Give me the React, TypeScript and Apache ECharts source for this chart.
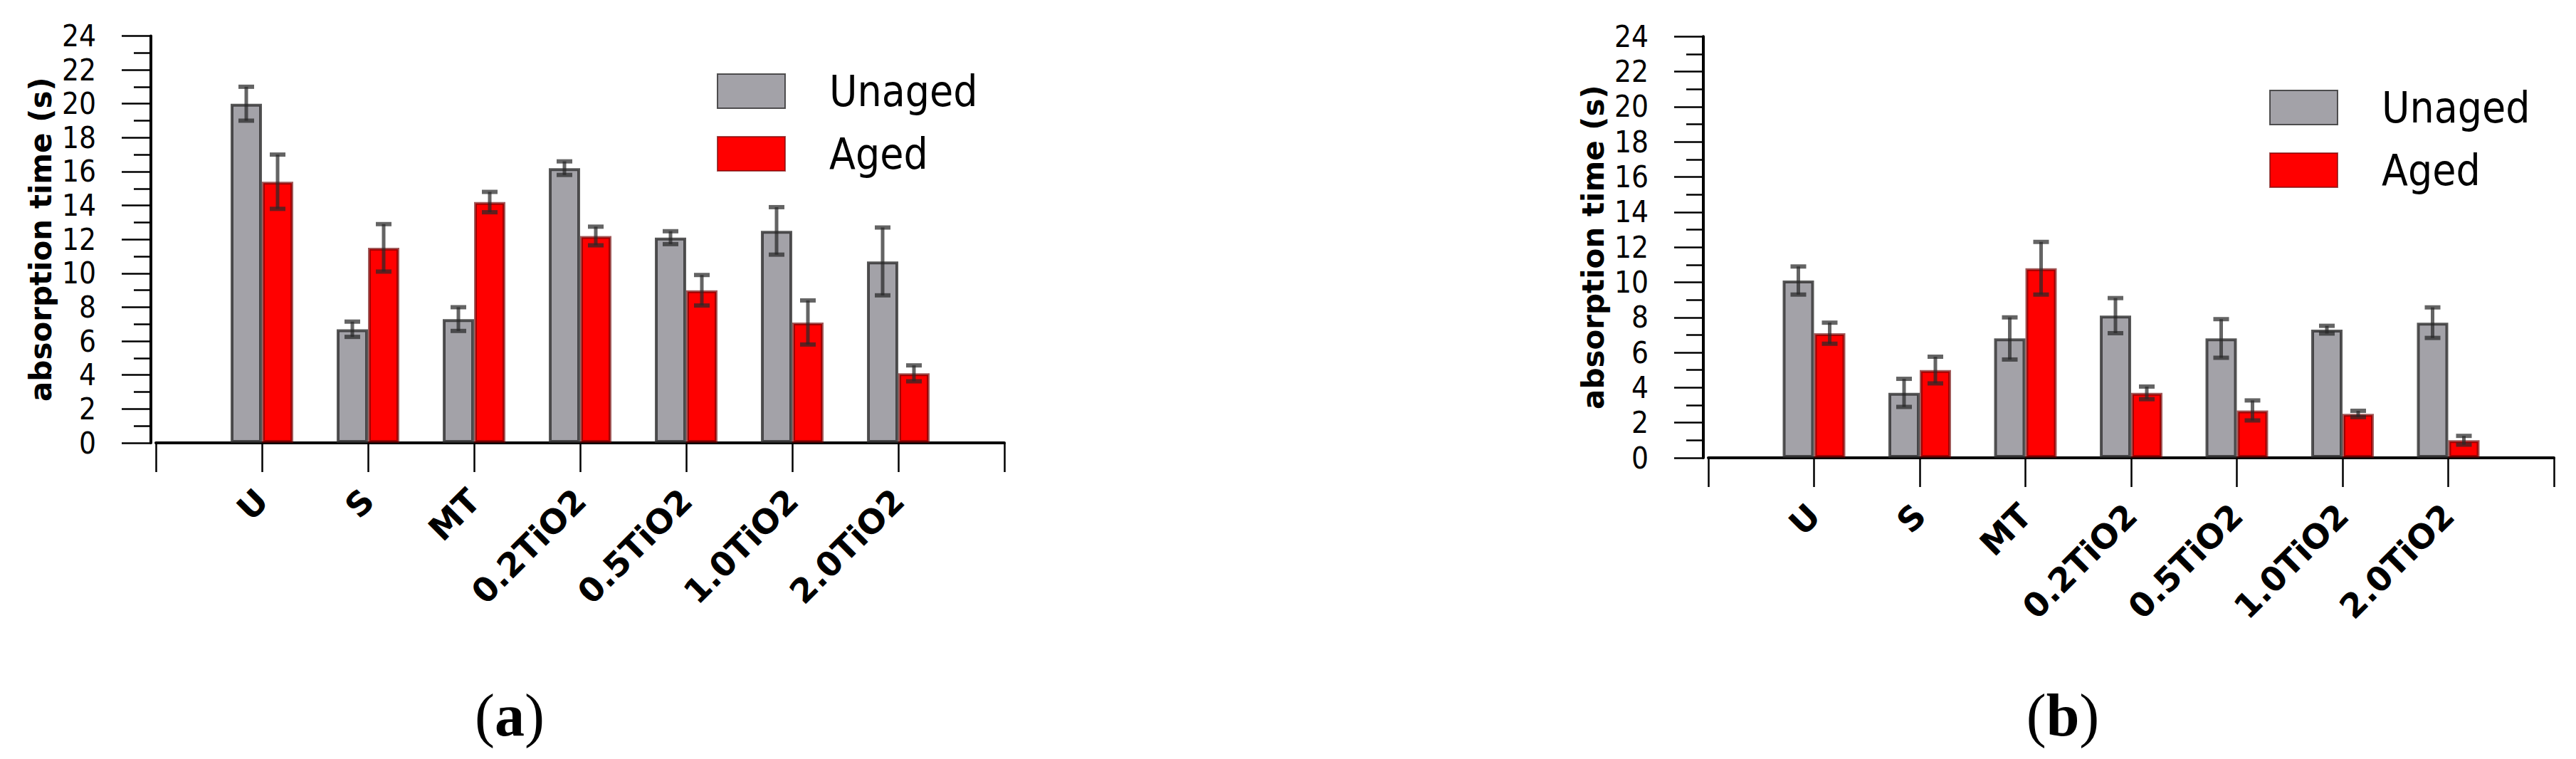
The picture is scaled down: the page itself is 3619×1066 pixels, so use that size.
import React, { useEffect, useRef } from 'react';
import * as echarts from 'echarts';

// ---- data ----
const categories = ['', 'U', 'S', 'MT', '0.2TiO2', '0.5TiO2', '1.0TiO2', '2.0TiO2', ''];
const seriesNames = ['Unaged', 'Aged'];
const yTickValues = [0, 2, 4, 6, 8, 10, 12, 14, 16, 18, 20, 22, 24];
const yAxisTitle = 'absorption time (s)';
const panelLetters = ['a', 'b'];

// panel (a)
const unagedA = [20.0, 6.7, 7.3, 16.2, 12.1, 12.5, 10.7];
const unagedAErr = [1.0, 0.45, 0.7, 0.4, 0.38, 1.4, 2.0];
const agedA = [15.4, 11.5, 14.2, 12.2, 9.0, 7.1, 4.1];
const agedAErr = [1.6, 1.4, 0.6, 0.55, 0.9, 1.3, 0.47];

// panel (b)
const unagedB = [10.1, 3.7, 6.8, 8.1, 6.8, 7.3, 7.7];
const unagedBErr = [0.8, 0.8, 1.2, 1.0, 1.1, 0.22, 0.87];
const agedB = [7.1, 5.0, 10.8, 3.7, 2.7, 2.5, 1.0];
const agedBErr = [0.6, 0.76, 1.5, 0.36, 0.57, 0.18, 0.25];

const FONT = "'DejaVu Sans Condensed', 'DejaVu Sans', sans-serif";
const BOLD_FONT = "'DejaVu Sans', sans-serif";
const GRAY = '#a3a2a8';
const RED = '#ff0000';
const GRAY_BORDER = 'rgba(45,45,45,0.8)';
const RED_BORDER = 'rgba(110,0,0,0.65)';
const ERR_COLOR = 'rgba(40,40,40,0.72)';
const BAR_W = 44;

function padData(vals: number[]) {
  return ['-', ...vals, '-'];
}

function errData(vals: number[], errs: number[]) {
  return vals.map((v, i) => [i + 1, v - errs[i], v + errs[i]]);
}

function makeErrSeries(idx: number, vals: number[], errs: number[], offset: number) {
  return {
    type: 'custom',
    xAxisIndex: idx,
    yAxisIndex: idx,
    z: 5,
    silent: true,
    data: errData(vals, errs),
    renderItem: (params: any, api: any) => {
      const cx = api.coord([api.value(0), 0])[0] + offset;
      const yLo = api.coord([api.value(0), api.value(1)])[1];
      const yHi = api.coord([api.value(0), api.value(2)])[1];
      const capHalf = 11;
      return {
        type: 'group',
        children: [
          { type: 'line', shape: { x1: cx, y1: yLo, x2: cx, y2: yHi }, style: { stroke: ERR_COLOR, lineWidth: 5 } },
          { type: 'line', shape: { x1: cx - capHalf, y1: yHi, x2: cx + capHalf, y2: yHi }, style: { stroke: ERR_COLOR, lineWidth: 6 } },
          { type: 'line', shape: { x1: cx - capHalf, y1: yLo, x2: cx + capHalf, y2: yLo }, style: { stroke: ERR_COLOR, lineWidth: 6 } },
        ],
      };
    },
  };
}

function makeXAxis(idx: number) {
  return {
    type: 'category',
    gridIndex: idx,
    data: categories,
    boundaryGap: false,
    offset: 7,
    axisLine: { show: true, lineStyle: { color: '#000', width: 4 } },
    axisTick: { show: true, interval: 0, length: 41, lineStyle: { color: '#000', width: 2.5 } },
    axisLabel: {
      interval: 0,
      rotate: 45,
      margin: 66,
      fontSize: 47,
      fontWeight: 'bold',
      fontFamily: BOLD_FONT,
      color: '#000',
    },
    splitLine: { show: false },
  };
}

function makeYAxis(idx: number) {
  return {
    type: 'value',
    gridIndex: idx,
    min: yTickValues[0],
    max: yTickValues[yTickValues.length - 1],
    interval: yTickValues[1] - yTickValues[0],
    offset: 7,
    axisLine: { show: true, lineStyle: { color: '#000', width: 4 } },
    axisTick: { show: true, inside: false, length: 41, lineStyle: { color: '#000', width: 2.5 } },
    minorTick: { show: true, splitNumber: 2, length: 24, lineStyle: { color: '#000', width: 2.5 } },
    splitLine: { show: false },
    minorSplitLine: { show: false },
    axisLabel: { margin: 77, fontSize: 42, fontFamily: FONT, color: '#000' },
    name: yAxisTitle,
    nameLocation: 'middle',
    nameRotate: 90,
    nameGap: 134,
    nameTextStyle: { fontSize: 42, fontWeight: 'bold', fontFamily: BOLD_FONT, color: '#000' },
  };
}

function makeBar(idx: number, name: string, vals: number[], color: string, border: string) {
  return {
    type: 'bar',
    name,
    xAxisIndex: idx,
    yAxisIndex: idx,
    data: padData(vals),
    barWidth: BAR_W,
    barGap: '0%',
    itemStyle: { color, borderColor: border, borderWidth: 4 },
  };
}

function makeLegend(left: number, top: number) {
  return {
    data: seriesNames,
    orient: 'vertical',
    left,
    top,
    padding: 0,
    itemWidth: 95,
    itemHeight: 48,
    itemGap: 28,
    icon: 'rect',
    selectedMode: false,
    textStyle: { fontSize: 60, fontFamily: FONT, color: '#000', padding: [0, 0, 0, 57] },
  };
}

export default function App() {
  const ref = useRef<HTMLDivElement>(null);

  useEffect(() => {
    document.body.style.margin = '0';
    if (!ref.current) return;
    const chart = echarts.init(ref.current, undefined, { renderer: 'svg' });
    const option: any = {
      animation: false,
      backgroundColor: '#fff',
      grid: [
        { left: 219, top: 50.4, width: 1192, height: 571.6, containLabel: false },
        { left: 2400, top: 51.3, width: 1188, height: 591.7, containLabel: false },
      ],
      xAxis: [makeXAxis(0), makeXAxis(1)],
      yAxis: [makeYAxis(0), makeYAxis(1)],
      legend: [makeLegend(1007, 98), makeLegend(3188, 121)],
      series: [
        makeBar(0, seriesNames[0], unagedA, GRAY, GRAY_BORDER),
        makeBar(0, seriesNames[1], agedA, RED, RED_BORDER),
        makeBar(1, seriesNames[0], unagedB, GRAY, GRAY_BORDER),
        makeBar(1, seriesNames[1], agedB, RED, RED_BORDER),
        makeErrSeries(0, unagedA, unagedAErr, -BAR_W / 2),
        makeErrSeries(0, agedA, agedAErr, BAR_W / 2),
        makeErrSeries(1, unagedB, unagedBErr, -BAR_W / 2),
        makeErrSeries(1, agedB, agedBErr, BAR_W / 2),
      ],
      graphic: panelLetters.map((l, i) => ({
        type: 'text',
        x: i === 0 ? 716 : 2898,
        y: 1004,
        style: {
          text: '({b|' + l + '})',
          align: 'center',
          verticalAlign: 'middle',
          fontSize: 84,
          fontFamily: "'Liberation Serif', 'DejaVu Serif', serif",
          fill: '#000',
          rich: {
            b: { fontSize: 84, fontWeight: 'bold', fontFamily: "'Liberation Serif', 'DejaVu Serif', serif", fill: '#000' },
          },
        },
      })),
    };
    chart.setOption(option);
    return () => chart.dispose();
  }, []);

  return <div ref={ref} style={{ width: 3619, height: 1066 }} />;
}
